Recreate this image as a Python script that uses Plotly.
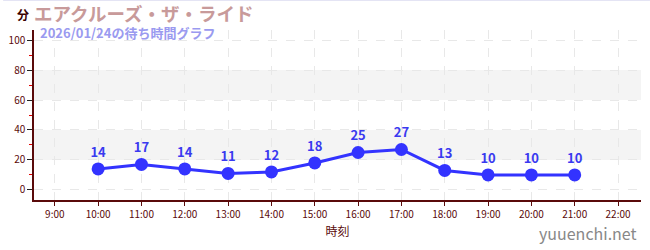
import plotly.graph_objects as go

hours = [10, 11, 12, 13, 14, 15, 16, 17, 18, 19, 20, 21]
waits = [14, 17, 14, 11, 12, 18, 25, 27, 13, 10, 10, 10]
tick_vals = list(range(9, 23))
tick_text = [f"{h}:00" for h in tick_vals]

FONT = "Noto Sans CJK JP"
AX = "#5a0a0a"

fig = go.Figure()
fig.add_trace(go.Scatter(
    x=hours, y=waits, mode="lines+markers+text",
    text=[str(v) for v in waits], textposition="top center",
    textfont=dict(family=FONT, size=13, color="#3a3af0", weight="bold"),
    line=dict(color="#3333ff", width=3),
    marker=dict(color="#3333ff", size=13),
    cliponaxis=False, hoverinfo="skip",
))

for y0, y1 in [(20, 40), (60, 80)]:
    fig.add_shape(type="rect", xref="paper", yref="y", x0=0, x1=1, y0=y0, y1=y1,
                  fillcolor="#f4f4f4", line_width=0, layer="below")
# thin frame line at top of page
fig.add_shape(type="line", xref="paper", yref="paper", x0=-31/610, x1=1+9/610,
              y0=1+29.5/170, y1=1+29.5/170, line=dict(color="#e4e4f4", width=1))

fig.update_layout(
    width=650, height=250,
    margin=dict(l=31, r=9, t=30, b=50),
    plot_bgcolor="white", paper_bgcolor="white",
    showlegend=False,
    font=dict(family=FONT, color=AX),
    annotations=[
        dict(text="エアクルーズ・ザ・ライド", xref="paper", yref="paper", x=0.0, y=1,
             xshift=-2, yshift=2, xanchor="left", yanchor="bottom", showarrow=False,
             font=dict(family=FONT, size=18.5, color="#c89a9a", weight="bold")),
        dict(text="2026/01/24の待ち時間グラフ", xref="paper", yref="paper", x=0.0, y=1,
             xshift=4, yshift=-14, xanchor="left", yanchor="bottom", showarrow=False,
             font=dict(family=FONT, size=13, color="#9a9af0", weight="bold")),
        dict(text="分", xref="paper", yref="paper", x=0, y=1, xshift=-11, yshift=5,
             xanchor="center", yanchor="bottom", showarrow=False,
             font=dict(family=FONT, size=12, color="#3a0000", weight="bold")),
        dict(text="yuuenchi.net", xref="paper", yref="paper", x=1, y=0,
             xshift=-2, yshift=-47, xanchor="right", yanchor="bottom", showarrow=False,
             font=dict(family=FONT, size=16, color="#888888")),
    ],
)
fig.update_xaxes(
    range=[8.52, 22.53], tickvals=tick_vals, ticktext=tick_text,
    showline=True, linecolor=AX, linewidth=1.5, ticks="outside", ticklen=4, tickcolor=AX,
    tickfont=dict(family=FONT, size=10, color=AX),
    showgrid=True, gridcolor="#e8e8e8", griddash="dash", gridwidth=1, zeroline=False,
    title=dict(text="時刻", font=dict(family=FONT, size=12, color=AX), standoff=8),
)
fig.update_yaxes(
    range=[-6.7, 106.7], tickvals=[0, 20, 40, 60, 80, 100],
    showline=True, linecolor=AX, linewidth=1.5, ticks="outside", ticklen=5, tickcolor="#222",
    tickfont=dict(family=FONT, size=10, color=AX),
    minor=dict(tickvals=[10, 30, 50, 70, 90], ticks="outside", ticklen=3, tickcolor="#e00000", showgrid=False),
    showgrid=True, gridcolor="#e8e8e8", griddash="dash", gridwidth=1, zeroline=False,
)
fig.write_html("out.html")
